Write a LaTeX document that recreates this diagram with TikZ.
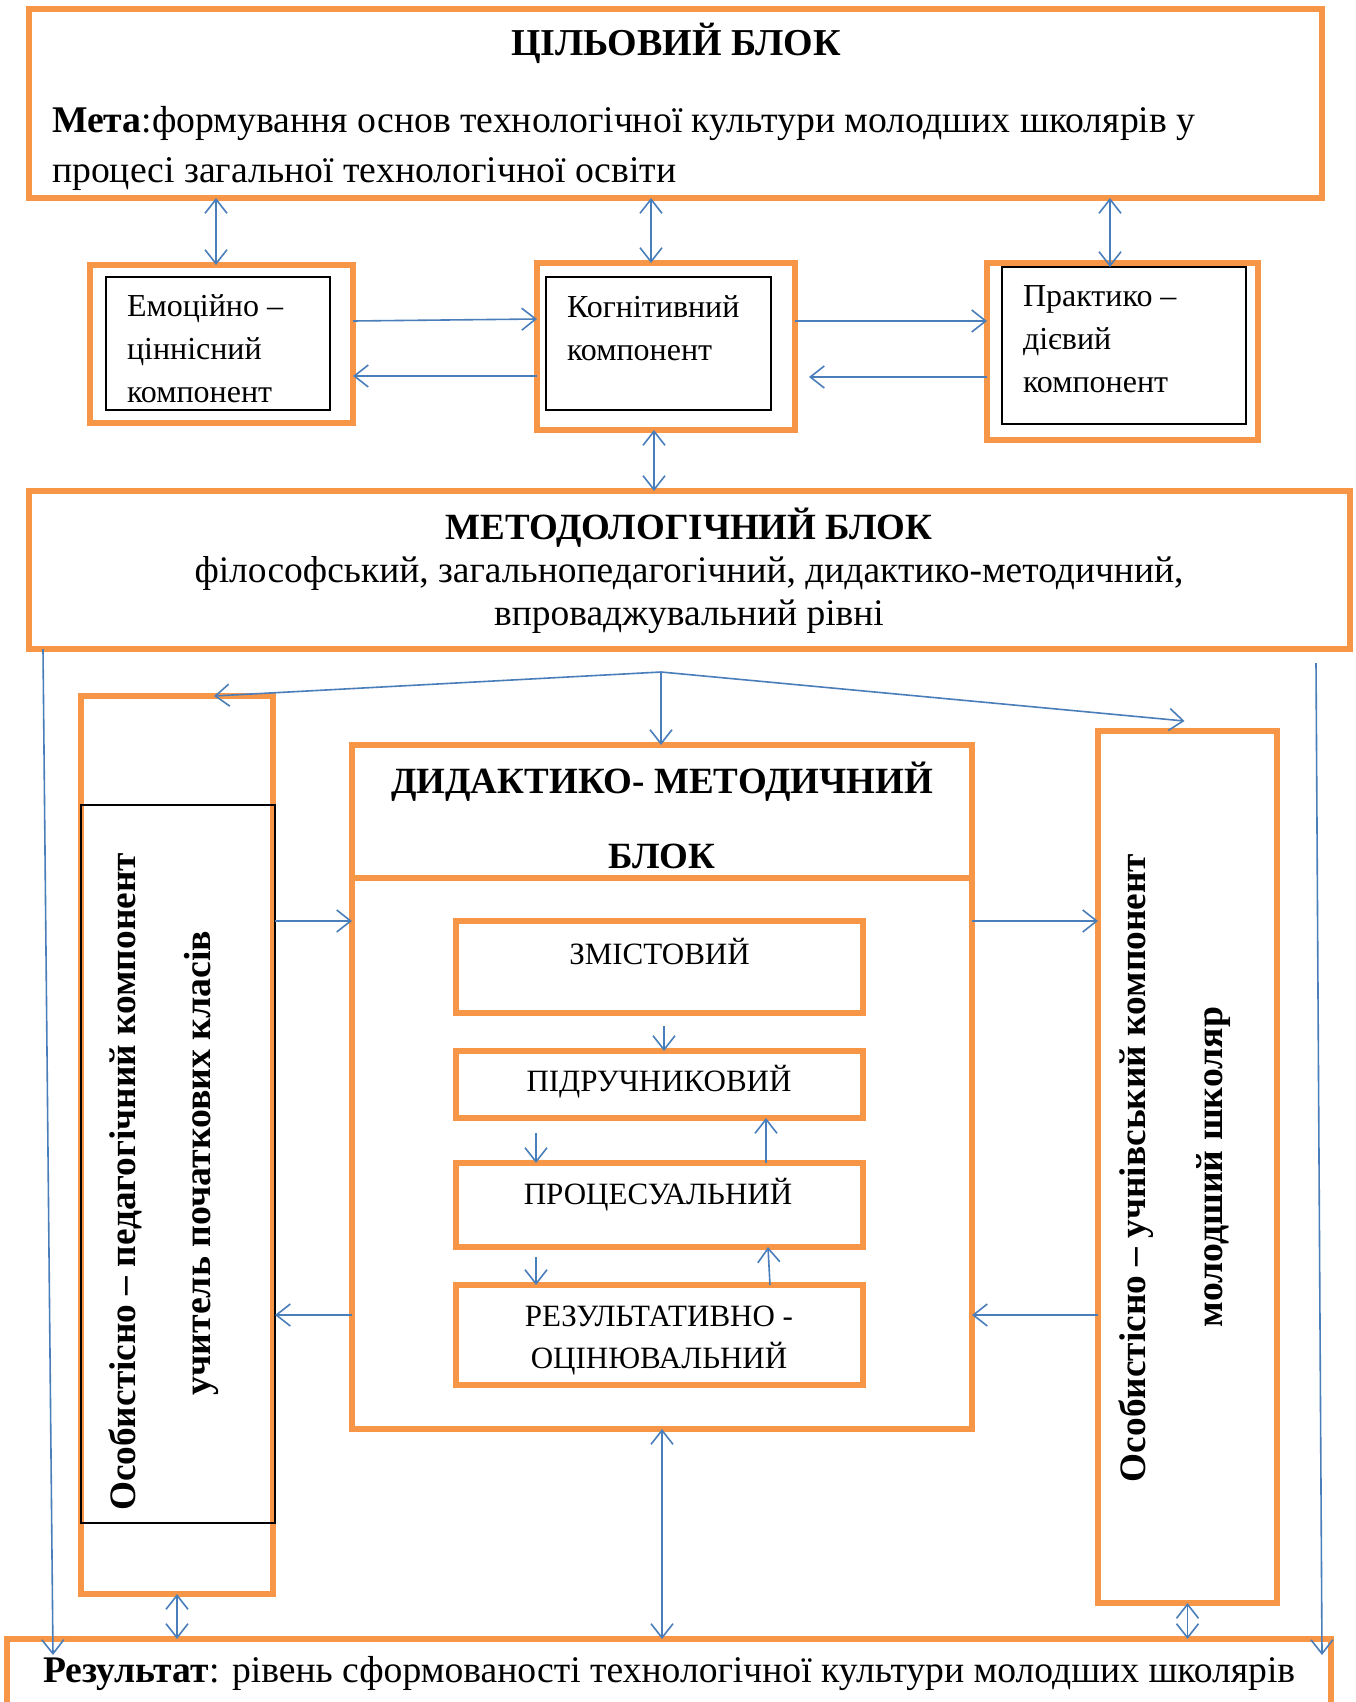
\documentclass[tikz,border=0pt]{standalone}
\usepackage{fontspec}
\setmainfont{Liberation Serif}
\usetikzlibrary{arrows.meta,calc}
\definecolor{orng}{HTML}{F79646}
\definecolor{blu}{HTML}{4A7EBB}
\begin{document}
\begin{tikzpicture}[x=1pt,y=-1pt,
  ob/.style={draw=orng,line width=6pt,inner sep=0pt,outer sep=0pt},
  bk/.style={draw=black,line width=1.5pt,inner sep=0pt,outer sep=0pt},
  arr/.style={draw=blu,line width=1.6pt,-{Straight Barb[length=14pt,width=22pt]}},
  dbl/.style={draw=blu,line width=1.6pt,{Straight Barb[length=14pt,width=22pt]}-{Straight Barb[length=14pt,width=22pt]}},
  txt/.style={inner sep=0pt,outer sep=0pt,text=black},
]
\useasboundingbox (0,0) rectangle (1355,1702);
\fill[white] (0,0) rectangle (1355,1702);
\clip (0,0) rectangle (1355,1702);
% boxes
\node[ob,minimum width=1293pt,minimum height=189pt] (goal) at (675.5,103.5) {};
\node[ob,minimum width=263pt,minimum height=158pt] (emo) at (221.5,344) {};
\node[bk,minimum width=224pt,minimum height=133pt] (emoI) at (218,343.5) {};
\node[ob,minimum width=258pt,minimum height=167pt] (cog) at (666,346.5) {};
\node[bk,minimum width=225pt,minimum height=133pt] (cogI) at (658.5,343.5) {};
\node[ob,minimum width=271pt,minimum height=177pt] (prac) at (1122.5,351.5) {};
\node[bk,minimum width=244pt,minimum height=157pt] (pracI) at (1124,345.5) {};
\node[ob,minimum width=1321pt,minimum height=158pt] (meth) at (689.5,570) {};
\node[ob,minimum width=192pt,minimum height=898pt] (lft) at (177,1145) {};
\node[bk,minimum width=194pt,minimum height=718pt] (lftI) at (178,1164) {};
\node[ob,minimum width=620pt,minimum height=684pt] (did) at (662,1087) {};
\draw[orng,line width=6pt] (did.west |- 0,878) -- (did.east |- 0,878);
\node[ob,minimum width=407pt,minimum height=92pt] (zm) at (659.5,967) {};
\node[ob,minimum width=407pt,minimum height=67pt] (pd) at (659.5,1084.5) {};
\node[ob,minimum width=407pt,minimum height=84pt] (pr) at (659.5,1205) {};
\node[ob,minimum width=407pt,minimum height=100pt] (rz) at (659.5,1335) {};
\node[ob,minimum width=179pt,minimum height=872pt] (rgt) at (1187.5,1167) {};
\node[ob,minimum width=1324pt,minimum height=73pt] (res) at (669,1675.5) {};
% arrows
\draw[dbl] (216,0 |- goal.south) -- (216,0 |- emo.north);
\draw[dbl] (651,0 |- goal.south) -- (651,0 |- cog.north);
\draw[dbl] (1110,0 |- goal.south) -- (1110,0 |- pracI.north);
\draw[arr] (emo.east |- 0,321) -- (cog.west |- 0,319);
\draw[arr] (cog.west |- 0,376) -- (emo.east |- 0,376);
\draw[arr] (cog.east |- 0,321) -- (prac.west |- 0,321);
\draw[arr] (prac.west |- 0,377) -- ($(cog.east |- 0,377)+(14,0)$);
\draw[dbl] (654,0 |- cog.south) -- (654,0 |- meth.north);
\coordinate (br) at (661,672);
\draw[arr] (br) -- (214,0 |- lft.north);
\draw[arr] (br) -- (br |- did.north);
\draw[arr] (br) -- ($(rgt.north)+(-3,-10)$);
\draw[arr] (43,0 |- meth.south) -- ($(53,0 |- res.north)+(0,16)$);
\draw[arr] ($(1316,0 |- meth.south)+(0,14)$) -- ($(1322,0 |- res.north)+(0,16)$);
\draw[arr] (lftI.east |- 0,921) -- (did.west |- 0,921);
\draw[arr] (did.west |- 0,1315) -- (lftI.east |- 0,1315);
\draw[arr] (did.east |- 0,921) -- (rgt.west |- 0,921);
\draw[arr] (rgt.west |- 0,1315) -- (did.east |- 0,1315);
\draw[arr] ($(664,0 |- zm.south)+(0,13)$) -- (664,0 |- pd.north);
\draw[arr] ($(536,0 |- pd.south)+(0,15)$) -- (536,0 |- pr.north);
\draw[arr] (766,0 |- pr.north) -- (766,0 |- pd.south);
\draw[arr] ($(536,0 |- pr.south)+(0,10)$) -- (536,0 |- rz.north);
\draw[arr] (770,0 |- rz.north) -- (768,0 |- pr.south);
\draw[dbl] (lft.south) -- (lft.south |- res.north);
\draw[dbl] (did.south) -- (did.south |- res.north);
\draw[dbl] (rgt.south) -- (rgt.south |- res.north);
% texts
\node[txt,font=\bfseries\fontsize{38}{46}\selectfont] (goalT) at (676,43) {ЦІЛЬОВИЙ БЛОК};
\node[txt,anchor=west,align=left,font=\fontsize{37.7}{50}\selectfont] (goalM) at (52,148.5) {\textbf{Мета}:формування основ технологічної культури молодших школярів у\\процесі загальної  технологічної освіти};
\node[txt,anchor=west,align=left,font=\fontsize{32}{43}\selectfont] (emoT) at (127,349) {Емоційно –\\ціннісний\\компонент};
\node[txt,anchor=west,align=left,font=\fontsize{32}{43}\selectfont] (cogT) at (567,328) {Когнітивний\\компонент};
\node[txt,anchor=west,align=left,font=\fontsize{32}{43}\selectfont] (pracT) at (1023,339) {Практико –\\дієвий\\компонент};
\node[txt,align=center,font=\fontsize{37.5}{43}\selectfont] (methT) at (689,571) {{\bfseries\fontsize{37}{43}\selectfont МЕТОДОЛОГІЧНИЙ БЛОК}\\філософський, загальнопедагогічний, дидактико-методичний,\\впроваджувальний рівні};
\node[txt,align=center,font=\bfseries\fontsize{37}{75}\selectfont] (didT) at (662,815.5) {ДИДАКТИКО- МЕТОДИЧНИЙ\\БЛОК};
\node[txt,font=\fontsize{31}{38}\selectfont] (zmT) at (659.5,952) {ЗМІСТОВИЙ};
\node[txt,font=\fontsize{31}{38}\selectfont] (pdT) at (659,1082) {ПІДРУЧНИКОВИЙ};
\node[txt,font=\fontsize{31}{38}\selectfont] (prT) at (658,1195) {ПРОЦЕСУАЛЬНИЙ};
\node[txt,align=center,font=\fontsize{31}{42}\selectfont] (rzT) at (659,1341) {РЕЗУЛЬТАТИВНО -\\ОЦІНЮВАЛЬНИЙ};
\node[txt,anchor=west,font=\fontsize{37.6}{46}\selectfont] (resT) at (43,1673) {\textbf{Результат}: рівень сформованості технологічної культури молодших школярів};
\node[txt,rotate=90,font=\bfseries\fontsize{37.3}{46}\selectfont] (lfT1) at (125,1182) {Особистісно – педагогічний компонент};
\node[txt,rotate=90,font=\bfseries\fontsize{37.8}{46}\selectfont] (lfT2) at (201,1163) {учитель початкових класів};
\node[txt,rotate=90,font=\bfseries\fontsize{37.3}{46}\selectfont] (rgT1) at (1136,1168) {Особистісно – учнівський компонент};
\node[txt,rotate=90,font=\bfseries\fontsize{37.7}{46}\selectfont] (rgT2) at (1214,1167) {молодший школяр};
\end{tikzpicture}
\end{document}
